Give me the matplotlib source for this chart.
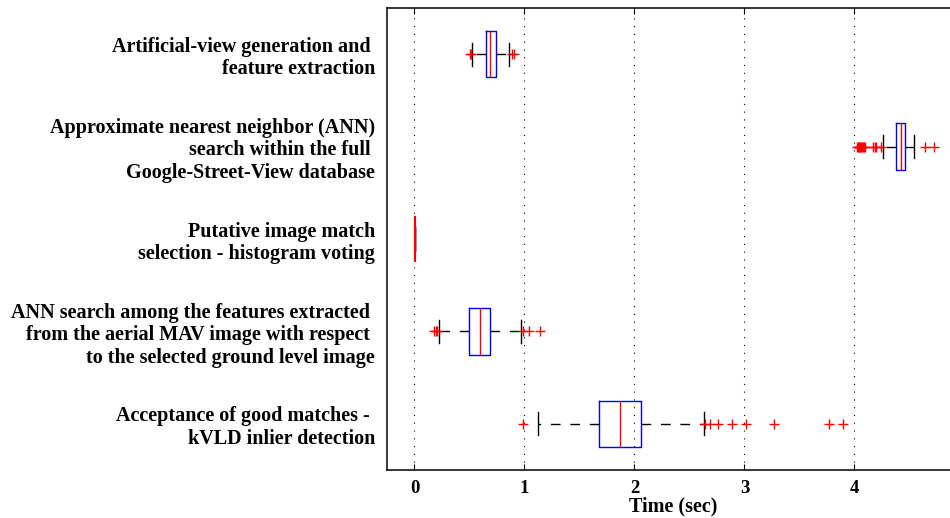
import matplotlib
matplotlib.use("Agg")
from matplotlib import pyplot as plt

# Stage labels (top to bottom)
labels = [
    "Artificial-view generation and \nfeature extraction",
    "Approximate nearest neighbor (ANN)\nsearch within the full \nGoogle-Street-View database",
    "Putative image match\nselection - histogram voting",
    "ANN search among the features extracted \nfrom the aerial MAV image with respect \nto the selected ground level image",
    "Acceptance of good matches - \nkVLD inlier detection",
]

# Box statistics (seconds)
q1 = [0.65, 4.38, 0.002, 0.50, 1.68]
med = [0.69, 4.42, 0.002, 0.60, 1.87]
q3 = [0.74, 4.46, 0.002, 0.69, 2.06]
whislo = [0.52, 4.26, 0.001, 0.22, 1.12]
whishi = [0.86, 4.54, 0.003, 0.97, 2.63]
fliers = [
    [0.505, 0.51, 0.89, 0.905],
    [4.02, 4.03, 4.04, 4.045, 4.05, 4.06, 4.07, 4.08, 4.09, 4.10,
     4.17, 4.19, 4.20, 4.24, 4.64, 4.72],
    [],
    [0.18, 0.195, 0.205, 0.99, 1.04, 1.14],
    [0.99, 2.64, 2.685, 2.76, 2.89, 3.01, 3.27, 3.77, 3.90],
]

x_ticks = [0, 1, 2, 3, 4]

FONT = {"family": "Liberation Serif", "weight": "bold", "size": 14.5}
TICK_FONT = dict(FONT, size=13.5)

stats = []
for i in range(len(labels)):
    stats.append(dict(q1=q1[i], med=med[i], q3=q3[i],
                      whislo=whislo[i], whishi=whishi[i],
                      fliers=fliers[i]))

fig = plt.figure(figsize=(9.5, 5.18), dpi=100, facecolor="w")
ax = fig.add_axes([387 / 950, 1 - 470 / 518, 573 / 950, 462 / 518])

positions = list(range(1, len(labels) + 1))
bp = ax.bxp(stats, positions=positions, orientation="horizontal",
            widths=0.5, capwidths=0.25, showfliers=True,
            boxprops=dict(color="blue", linewidth=1.0),
            medianprops=dict(color="red", linewidth=1.0, zorder=3),
            whiskerprops=dict(color="black", linewidth=1.0, linestyle=(0, (7, 7))),
            capprops=dict(color="black", linewidth=1.0),
            flierprops=dict(marker="+", markeredgecolor="red", markersize=7,
                            markeredgewidth=1.0, linestyle="none"))
# zero-width box: the median line hides it completely
bp["boxes"][2].set_visible(False)
bp["medians"][2].set_linewidth(1.5)

ax.set_xlim(-0.25, 4.96)
ax.set_ylim(5.5, 0.5)
ax.set_xticks(x_ticks)
ax.set_xticklabels([str(t) for t in x_ticks], fontdict=TICK_FONT)
ax.set_yticks(positions)
ax.set_yticklabels(labels, fontdict=FONT, linespacing=1.17,
                   multialignment="right")

ax.xaxis.grid(True, linestyle=(0, (1, 6)), color="black", linewidth=0.8)
ax.tick_params(axis="x", direction="in", top=True, length=4, pad=7)
ax.tick_params(axis="y", length=0, pad=8.5)
for sp in ax.spines.values():
    sp.set_linewidth(1.1)

ax.set_xlabel("Time (sec)", fontdict=FONT, labelpad=0)

plt.savefig("out.png", dpi=100)
